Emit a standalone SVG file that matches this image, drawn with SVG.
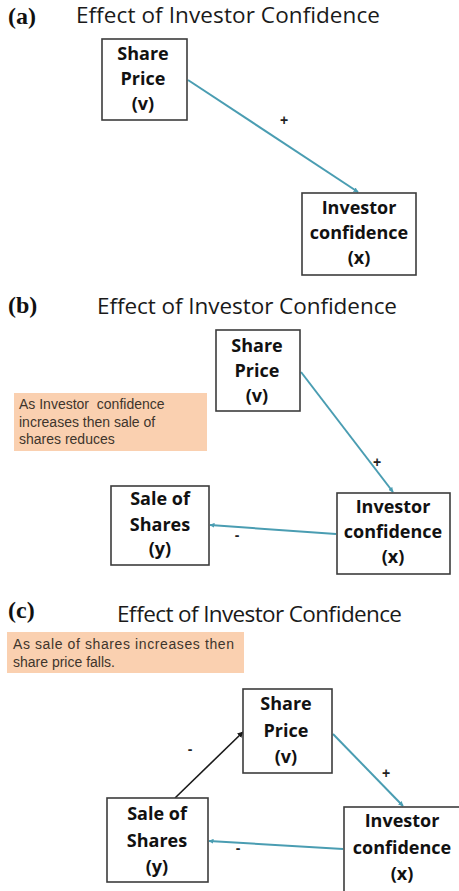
<svg xmlns="http://www.w3.org/2000/svg" width="459" height="891" viewBox="0 0 459 891">
  <defs>
    <marker id="head-teal" viewBox="0 0 10 10" refX="9" refY="5" markerWidth="5" markerHeight="5" orient="auto" markerUnits="userSpaceOnUse">
      <path d="M0,0 L10,5 L0,10 z" fill="#4a9db2"/>
    </marker>
    <marker id="head-black" viewBox="0 0 10 10" refX="9" refY="5" markerWidth="6" markerHeight="6" orient="auto" markerUnits="userSpaceOnUse">
      <path d="M0,0 L10,5 L0,10 z" fill="#1a1a1a"/>
    </marker>
  </defs>
  <style>
    .box { fill: #ffffff; stroke: #3c3c3c; stroke-width: 1.6; }
    .node { font-family: "Open Sans", "DejaVu Sans", sans-serif; font-weight: bold; font-size: 18px; fill: #111; text-anchor: middle; }
    .title { font-family: "Open Sans", "DejaVu Sans", sans-serif; font-size: 22.5px; fill: #1a1a1a; }
    .tag { font-family: "Liberation Serif", serif; font-weight: bold; font-size: 24px; fill: #111; }
    .note { fill: #fad0b0; }
    .notetext { font-family: "Liberation Sans", Arial, sans-serif; font-size: 14px; fill: #3e352c; }
    .sign { font-family: "Liberation Sans", Arial, sans-serif; font-weight: bold; font-size: 14px; fill: #222; text-anchor: middle; }
    .teal { stroke: #4a9db2; stroke-width: 2; fill: none; marker-end: url(#head-teal); }
    .black { stroke: #1a1a1a; stroke-width: 1.6; fill: none; marker-end: url(#head-black); }
  </style>
  <rect width="459" height="891" fill="#ffffff"/>

  <!-- Panel (a) -->
  <g id="panel-a">
    <text class="tag" x="8" y="24">(a)</text>
    <text class="title" x="76" y="23" textLength="304">Effect of Investor Confidence</text>
    <g id="a-connectors">
      <line class="teal" x1="188" y1="80" x2="358" y2="192"/>
      <text class="sign" x="284" y="125">+</text>
    </g>
    <g id="a-share-price">
      <rect class="box" x="102" y="39" width="85" height="81"/>
      <text class="node" x="143" y="60">Share</text>
      <text class="node" x="143" y="85">Price</text>
      <text class="node" x="143" y="110">(v)</text>
    </g>
    <g id="a-investor-confidence">
      <rect class="box" x="302" y="193" width="114" height="82"/>
      <text class="node" x="359" y="214">Investor</text>
      <text class="node" x="359" y="239">confidence</text>
      <text class="node" x="359" y="264">(x)</text>
    </g>
  </g>

  <!-- Panel (b) -->
  <g id="panel-b">
    <text class="tag" x="8" y="313">(b)</text>
    <text class="title" x="97" y="314" textLength="300">Effect of Investor Confidence</text>
    <g id="b-note">
      <rect class="note" x="14" y="393" width="193" height="58"/>
      <text class="notetext" x="19" y="409" xml:space="preserve">As Investor  confidence</text>
      <text class="notetext" x="19" y="427">increases then sale of</text>
      <text class="notetext" x="19" y="444">shares reduces</text>
    </g>
    <g id="b-connectors">
      <line class="teal" x1="301" y1="372" x2="393" y2="492"/>
      <text class="sign" x="377" y="467">+</text>
      <line class="teal" x1="336" y1="534" x2="210" y2="525"/>
      <text class="sign" x="237" y="540">-</text>
    </g>
    <g id="b-share-price">
      <rect class="box" x="216" y="330" width="84" height="81"/>
      <text class="node" x="257" y="352">Share</text>
      <text class="node" x="257" y="377">Price</text>
      <text class="node" x="257" y="402">(v)</text>
    </g>
    <g id="b-sale-of-shares">
      <rect class="box" x="111" y="486" width="98" height="79"/>
      <text class="node" x="160" y="505">Sale of</text>
      <text class="node" x="160" y="531">Shares</text>
      <text class="node" x="160" y="555">(y)</text>
    </g>
    <g id="b-investor-confidence">
      <rect class="box" x="337" y="493" width="113" height="81"/>
      <text class="node" x="393" y="513">Investor</text>
      <text class="node" x="393" y="538">confidence</text>
      <text class="node" x="393" y="563">(x)</text>
    </g>
  </g>

  <!-- Panel (c) -->
  <g id="panel-c">
    <text class="tag" x="8" y="618">(c)</text>
    <text class="title" x="117" y="622" textLength="285">Effect of Investor Confidence</text>
    <g id="c-note">
      <rect class="note" x="7" y="632" width="237" height="41"/>
      <text class="notetext" x="13" y="649" textLength="221">As sale of shares increases then</text>
      <text class="notetext" x="13" y="667">share price falls.</text>
    </g>
    <g id="c-connectors">
      <line class="black" x1="175" y1="798" x2="243" y2="732"/>
      <text class="sign" x="190" y="754">-</text>
      <line class="teal" x1="333" y1="734" x2="403" y2="806"/>
      <text class="sign" x="386" y="778">+</text>
      <line class="teal" x1="343" y1="849" x2="209" y2="841"/>
      <text class="sign" x="238" y="853">-</text>
    </g>
    <g id="c-share-price">
      <rect class="box" x="243" y="689" width="89" height="84"/>
      <text class="node" x="286" y="710">Share</text>
      <text class="node" x="286" y="737">Price</text>
      <text class="node" x="286" y="763">(v)</text>
    </g>
    <g id="c-sale-of-shares">
      <rect class="box" x="107" y="798" width="101" height="84"/>
      <text class="node" x="157" y="820">Sale of</text>
      <text class="node" x="157" y="847">Shares</text>
      <text class="node" x="157" y="873">(y)</text>
    </g>
    <g id="c-investor-confidence">
      <rect class="box" x="344" y="807" width="120" height="90"/>
      <text class="node" x="402" y="827">Investor</text>
      <text class="node" x="402" y="854">confidence</text>
      <text class="node" x="402" y="880">(x)</text>
    </g>
  </g>
</svg>
